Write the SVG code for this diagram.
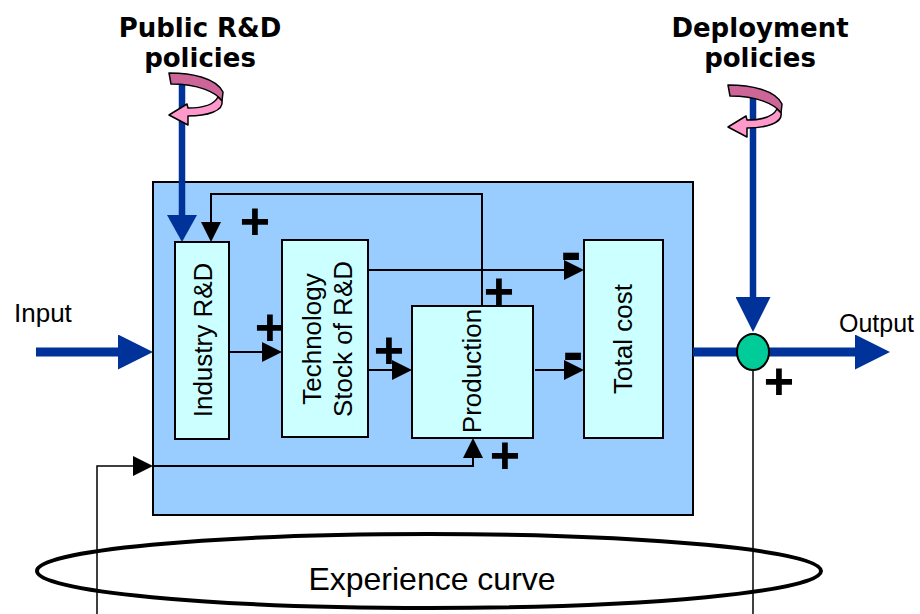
<svg xmlns="http://www.w3.org/2000/svg" width="920" height="614" viewBox="0 0 920 614">
  <style>
    .frame { fill: #99CCFF; stroke: #000; stroke-width: 2; }
    .box { fill: #CCFFFF; stroke: #000; stroke-width: 2; }
    .lbl { font-family: "Liberation Sans", Arial, sans-serif; font-size: 26px; fill: #000; }
    .big { font-size: 32px; }
    .out { font-size: 25px; }
    .head { font-family: "DejaVu Sans", "Liberation Sans", sans-serif; font-weight: bold; font-size: 26px; fill: #000; text-anchor: middle; }
    .sign { font-family: "Liberation Sans", Arial, sans-serif; font-weight: bold; fill: #000; text-anchor: middle; }
    .plus { font-size: 52px; }
    .minus { font-size: 62px; }
    .link { fill: none; stroke: #000; stroke-width: 2; }
    .thin { fill: none; stroke: #000; stroke-width: 1.5; }
    .flow { fill: none; stroke: #003399; stroke-width: 9; }
    .policy { fill: none; stroke: #003399; stroke-width: 6.5; }
    .twist-back { fill: #CC6699; stroke: #000; stroke-width: 1.5; stroke-linejoin: round; }
    .twist-front { fill: #FF99CC; stroke: #000; stroke-width: 1.5; stroke-linejoin: round; }
  </style>
  <defs>
    <marker id="tip" viewBox="0 0 20 20" refX="2" refY="10" markerWidth="20" markerHeight="20" markerUnits="userSpaceOnUse" orient="auto">
      <path d="M0,0 L20,10 L0,20 Z" fill="#000"/>
    </marker>
    <marker id="bigtip" viewBox="0 0 35 35" refX="2" refY="17.5" markerWidth="35" markerHeight="35" markerUnits="userSpaceOnUse" orient="auto">
      <path d="M0,0 L35,17.5 L0,35 Z" fill="#003399"/>
    </marker>
    <marker id="smalltip" viewBox="0 0 27 30" refX="2" refY="15" markerWidth="27" markerHeight="30" markerUnits="userSpaceOnUse" orient="auto">
      <path d="M0,0 L27,15 L0,30 Z" fill="#003399"/>
    </marker>
    <!-- curled policy arrow wrapped round a vertical flow line -->
    <g id="twist">
      <path class="twist-back" d="M169,73 C192,73 216,78 223,92 L222,101 C216,92 198,84 171,84 Z"/>
      <path class="twist-front" d="M222,101 C224,111 207,116 188,116 L188,125 L169,115 L187,104 L188,108 C204,108 214,105 218,97 Z"/>
    </g>
  </defs>

  <!-- system frame -->
  <g id="system">
    <rect class="frame" x="153" y="182" width="540" height="333"/>
  </g>

  <!-- experience curve loop -->
  <g id="experience-curve">
    <ellipse cx="429" cy="571" rx="392" ry="37" fill="none" stroke="#000" stroke-width="4"/>
    <text class="lbl big" x="432" y="590" text-anchor="middle">Experience curve</text>
  </g>

  <!-- connectors -->
  <g id="connectors">
    <!-- policy inputs -->
    <path class="policy" d="M182,85 V217" marker-end="url(#smalltip)"/>
    <path class="policy" d="M753,97 V299" marker-end="url(#bigtip)"/>
    <!-- main input / output flow -->
    <path class="flow" d="M36,352 H120" marker-end="url(#bigtip)"/>
    <path class="flow" d="M693,352 H857" marker-end="url(#bigtip)"/>
    <!-- internal links -->
    <path class="link" d="M482,306 V194 H211 V224" marker-end="url(#tip)"/>
    <path class="link" d="M229,352 H264" marker-end="url(#tip)"/>
    <path class="link" d="M368,370 H394" marker-end="url(#tip)"/>
    <path class="link" d="M368,270 H566" marker-end="url(#tip)"/>
    <path class="link" d="M535,370 H566" marker-end="url(#tip)"/>
    <!-- learning feedback -->
    <path class="thin" d="M753,370 V614"/>
    <path class="thin" d="M97,614 V466 H135" marker-end="url(#tip)"/>
    <path class="link" d="M153,466 H473 V456" marker-end="url(#tip)"/>
  </g>

  <!-- policy curls -->
  <use href="#twist"/>
  <use href="#twist" transform="translate(559,12)"/>

  <!-- policy headings -->
  <g id="public-policies">
    <text class="head" x="200" y="37">Public R&amp;D</text>
    <text class="head" x="200" y="67">policies</text>
  </g>
  <g id="deployment-policies">
    <text class="head" x="760" y="37">Deployment</text>
    <text class="head" x="760" y="67">policies</text>
  </g>

  <!-- nodes -->
  <g id="industry-rd">
    <rect class="box" x="175" y="242" width="54" height="197"/>
    <text class="lbl" transform="translate(212,340) rotate(-90)" text-anchor="middle">Industry R&amp;D</text>
  </g>
  <g id="technology-stock">
    <rect class="box" x="282" y="240" width="86" height="197"/>
    <text class="lbl" transform="translate(321,339) rotate(-90)" text-anchor="middle">Technology</text>
    <text class="lbl" transform="translate(352,339) rotate(-90)" text-anchor="middle">Stock of R&amp;D</text>
  </g>
  <g id="production">
    <rect class="box" x="412" y="306" width="121" height="132"/>
    <text class="lbl" transform="translate(481,371) rotate(-90)" text-anchor="middle">Production</text>
  </g>
  <g id="total-cost">
    <rect class="box" x="584" y="240" width="79" height="198"/>
    <text class="lbl" transform="translate(632,339) rotate(-90)" text-anchor="middle">Total cost</text>
  </g>
  <g id="market">
    <ellipse cx="753" cy="352" rx="16" ry="18" fill="#00CC99" stroke="#000" stroke-width="2"/>
  </g>

  <!-- flow labels -->
  <text class="lbl" x="14" y="322">Input</text>
  <text class="lbl out" x="839" y="332">Output</text>

  <!-- link polarities -->
  <g id="polarities">
    <text class="sign plus" x="255" y="239">+</text>
    <text class="sign plus" x="270" y="345">+</text>
    <text class="sign plus" x="389" y="368">+</text>
    <text class="sign plus" x="499" y="309">+</text>
    <text class="sign plus" x="505" y="473">+</text>
    <text class="sign plus" x="779" y="399">+</text>
    <text class="sign minus" x="571" y="272">-</text>
    <text class="sign minus" x="573" y="372">-</text>
  </g>
</svg>
